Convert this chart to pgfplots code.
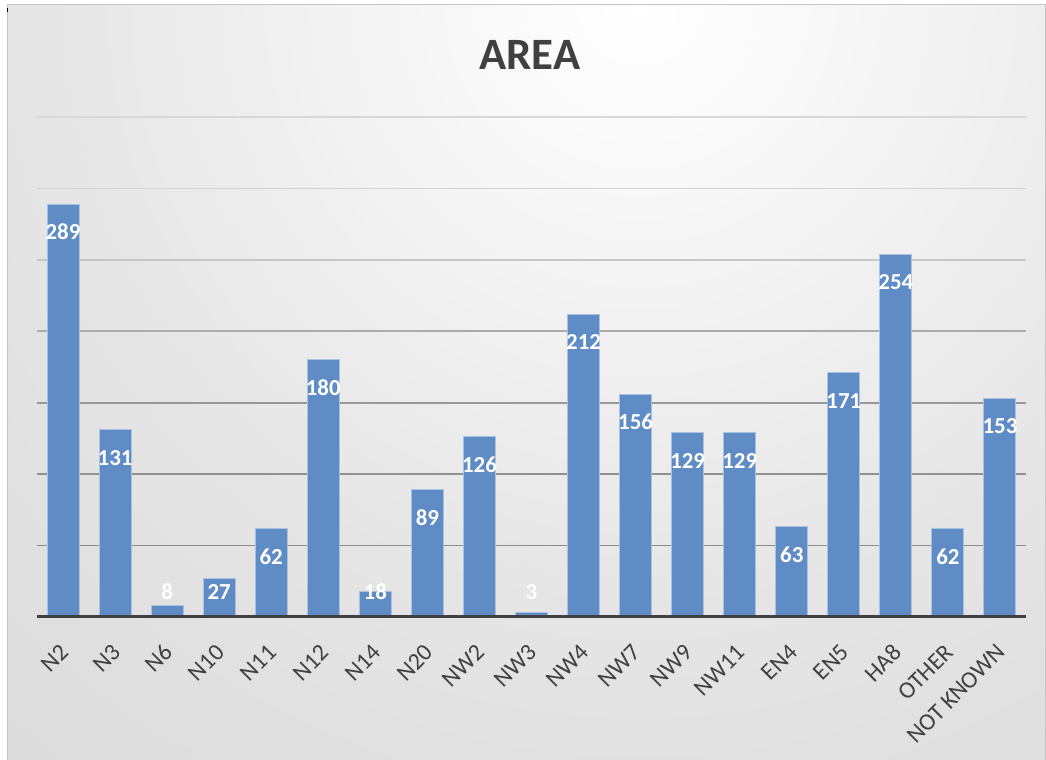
\documentclass[border=0pt]{standalone}
\usepackage{pgfplots}
\pgfplotsset{compat=1.18}
\usepackage{pgfplotstable}
\usepackage{fontspec}
\setmainfont{Carlito}

\definecolor{barfill}{RGB}{95,140,196}
\definecolor{baredge}{RGB}{168,194,228}
\definecolor{inkgray}{RGB}{64,64,64}
\definecolor{framegray}{RGB}{196,196,196}

% soft radial backdrop, brightest near the top centre
\pgfdeclareradialshading{chartbg}{\pgfpointorigin}{%
  color(0bp)=(white); color(5bp)=(white!97!black);
  color(15bp)=(white!90!black); color(25bp)=(white!86!black);
  color(35bp)=(white!82!black); color(50bp)=(white!77!black)}

% counts per area
\pgfplotstableread{
idx v
0 289
1 131
2 8
3 27
4 62
5 180
6 18
7 89
8 126
9 3
10 212
11 156
12 129
13 129
14 63
15 171
16 254
17 62
18 153
}\areadata

\begin{document}
\begin{tikzpicture}[x=1bp,y=1bp]
\useasboundingbox (0,0) rectangle (1046,760);
\begin{scope}
  \clip (7,0) rectangle (1045,755);
  \shade[shading=chartbg] (640,760) circle[radius=1000bp];
\end{scope}
\draw[framegray, line width=1bp] (7,-5) -- (7,755) -- (1045,755) -- (1045,-5);
\draw[black, line width=1bp] (7.5,748) -- (7.5,752);

\node[font=\fontsize{45}{54}\selectfont\bfseries, text=inkgray] at (530,705) {AREA};

\begin{axis}[
  at={(37bp,143bp)}, anchor=south west,
  scale only axis, width=989bp, height=500bp,
  xmin=-0.5, xmax=18.5, ymin=0, ymax=350,
  axis line style={draw=none},
  ytick=\empty,
  xtick={0,...,18},
  xticklabels={N2,N3,N6,N10,N11,N12,N14,N20,NW2,NW3,NW4,NW7,NW9,NW11,EN4,EN5,HA8,OTHER,{NOT KNOWN}},
  major tick length=0pt,
  xticklabel style={font=\fontsize{24}{28}\selectfont, text=inkgray,
    xshift=1.5bp, yshift=-31.5bp, rotate=45, anchor=east, inner sep=0pt},
  clip=false,
  /pgf/number format/assume math mode=true,
]
% horizontal guides, darker toward the baseline
\draw[line width=1.6bp, color={rgb,255:red,140;green,140;blue,140}] (axis cs:-0.5,50) -- (axis cs:18.5,50);
\draw[line width=1.6bp, color={rgb,255:red,145;green,145;blue,145}] (axis cs:-0.5,100) -- (axis cs:18.5,100);
\draw[line width=1.6bp, color={rgb,255:red,152;green,152;blue,152}] (axis cs:-0.5,150) -- (axis cs:18.5,150);
\draw[line width=1.6bp, color={rgb,255:red,172;green,172;blue,172}] (axis cs:-0.5,200) -- (axis cs:18.5,200);
\draw[line width=1.6bp, color={rgb,255:red,198;green,198;blue,198}] (axis cs:-0.5,250) -- (axis cs:18.5,250);
\draw[line width=1.6bp, color={rgb,255:red,210;green,210;blue,210}] (axis cs:-0.5,300) -- (axis cs:18.5,300);
\draw[line width=1.6bp, color={rgb,255:red,216;green,216;blue,216}] (axis cs:-0.5,350) -- (axis cs:18.5,350);

\addplot[ybar, bar width=32bp, bar shift=0pt, fill=barfill, draw=baredge, line width=1bp]
  table[x=idx, y=v] {\areadata};

\draw[line width=3bp, inkgray] (axis cs:-0.5,0) -- (axis cs:18.5,0);

% value labels, inside the top of each bar
\addplot[draw=none, mark=none, point meta=explicit, nodes near coords,
  every node near coord/.append style={anchor=center, inner sep=0pt, text=white,
    font=\fontsize{23}{27}\selectfont\bfseries}]
  table[x=idx, y expr={max(\thisrow{v}-19.5,17.5)}, meta=v] {\areadata};
\end{axis}
\end{tikzpicture}
\end{document}
